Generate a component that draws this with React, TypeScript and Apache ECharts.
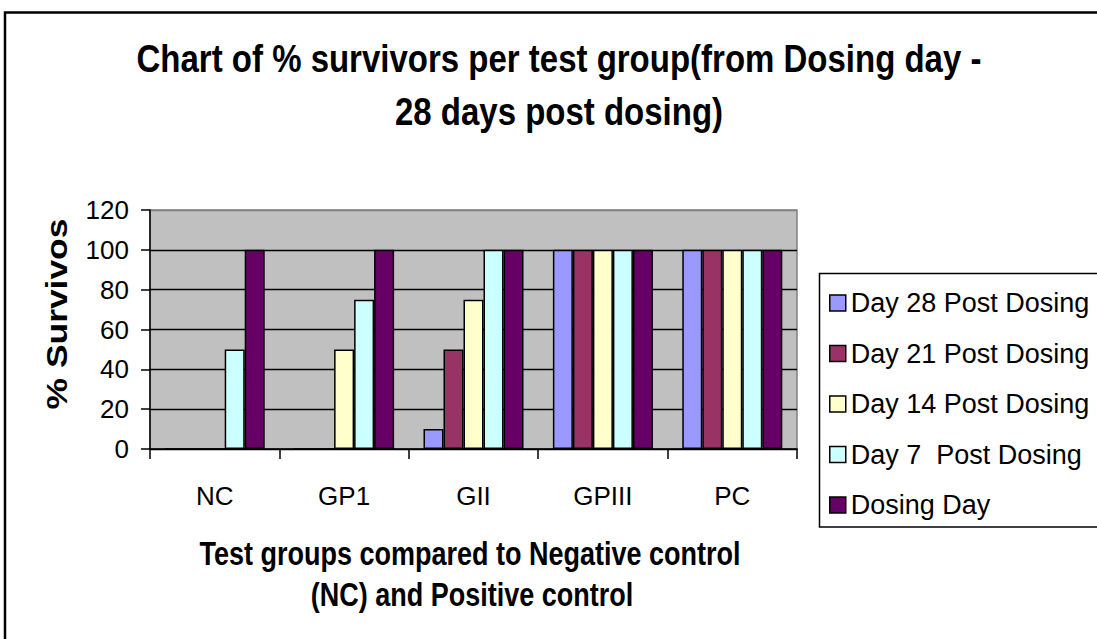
import React, { useEffect, useRef } from 'react';
import * as echarts from 'echarts';

const categories = ['NC', 'GP1', 'GII', 'GPIII', 'PC'];
const seriesNames = [
  'Day 28 Post Dosing',
  'Day 21 Post Dosing',
  'Day 14 Post Dosing',
  'Day 7  Post Dosing',
  'Dosing Day',
];
const day28 = [0, 0, 10, 100, 100];
const day21 = [0, 0, 50, 100, 100];
const day14 = [0, 50, 75, 100, 100];
const day7 = [50, 75, 100, 100, 100];
const dosingDay = [100, 100, 100, 100, 100];
const seriesValues = [day28, day21, day14, day7, dosingDay];
const colors = ['#9999FF', '#993366', '#FFFFCC', '#CCFFFF', '#660066'];

const titleLine1 = 'Chart of % survivors per test group(from Dosing day -';
const titleLine2 = '28 days post dosing)';
const xTitle1 = 'Test groups compared to Negative control';
const xTitle2 = '(NC) and Positive control';
const yTitle = '% Survivos';

const FONT = "'Liberation Sans', Arial, Helvetica, sans-serif";

export default function App() {
  const ref = useRef<HTMLDivElement>(null);
  useEffect(() => {
    if (!ref.current) return;
    const chart = echarts.init(ref.current, undefined, { renderer: 'svg' });
    const option: any = {
      animation: false,
      backgroundColor: '#ffffff',
      textStyle: { fontFamily: FONT },
      grid: {
        left: 150,
        right: 300,
        top: 210,
        bottom: 190,
        show: true,
        backgroundColor: '#C0C0C0',
        borderColor: '#808080',
        borderWidth: 1.5,
      },
      legend: {
        orient: 'vertical',
        left: 819,
        top: 273,
        padding: [15, 5, 7, 10],
        itemWidth: 16,
        itemHeight: 16,
        itemGap: 20.5,
        itemTextGap: 8,
        icon: 'rect',
        borderWidth: 0,
        z: 10,
        itemStyle: { borderColor: '#000', borderWidth: 1.5 },
        textStyle: { fontSize: 27, lineHeight: 30, color: '#000', fontFamily: FONT },
        data: seriesNames,
      },
      xAxis: {
        type: 'category',
        data: categories,
        axisLine: { show: true, lineStyle: { color: '#000', width: 1.5 } },
        axisTick: { show: true, length: 10, alignWithLabel: false, lineStyle: { color: '#000', width: 1.5 } },
        axisLabel: { fontSize: 26, color: '#000', margin: 34, fontFamily: FONT },
        splitLine: { show: false },
      },
      yAxis: {
        type: 'value',
        min: 0,
        max: 120,
        interval: 20,
        axisLine: { show: true, lineStyle: { color: '#000', width: 1.5 } },
        axisTick: { show: true, length: 9, lineStyle: { color: '#000', width: 1.5 } },
        axisLabel: { fontSize: 26, color: '#000', margin: 21, fontFamily: FONT },
        splitLine: {
          show: true,
          lineStyle: {
            color: ['#000', '#000', '#000', '#000', '#000', '#000', '#808080'],
            width: 1.3,
          },
        },
      },
      series: seriesNames.map((name, i) => ({
        name,
        type: 'bar',
        data: seriesValues[i],
        barGap: '0%',
        barCategoryGap: '22.7%',
        itemStyle: { color: colors[i], borderColor: '#000', borderWidth: 1.5 },
      })),
      graphic: [
        {
          type: 'rect',
          shape: { x: 5, y: 12.5, width: 1200, height: 700 },
          style: { fill: 'none', stroke: '#000', lineWidth: 2.5 },
          silent: true,
          z: 100,
        },
        {
          type: 'rect',
          shape: { x: 819.5, y: 273.5, width: 400, height: 253.5 },
          style: { fill: '#fff', stroke: '#000', lineWidth: 1.5 },
          silent: true,
          z: 1,
        },
        {
          type: 'text',
          x: 559,
          y: 59,
          scaleY: 1.18,
          style: { text: titleLine1, font: `bold 33px ${FONT}`, fill: '#000', align: 'center', verticalAlign: 'middle' },
        },
        {
          type: 'text',
          x: 559,
          y: 112,
          scaleY: 1.18,
          style: { text: titleLine2, font: `bold 33px ${FONT}`, fill: '#000', align: 'center', verticalAlign: 'middle' },
        },
        {
          type: 'text',
          x: 470,
          y: 554,
          scaleY: 1.22,
          style: { text: xTitle1, font: `bold 27px ${FONT}`, fill: '#000', align: 'center', verticalAlign: 'middle' },
        },
        {
          type: 'text',
          x: 472,
          y: 595,
          scaleY: 1.22,
          style: { text: xTitle2, font: `bold 27px ${FONT}`, fill: '#000', align: 'center', verticalAlign: 'middle' },
        },
        {
          type: 'text',
          x: 56,
          y: 314,
          rotation: Math.PI / 2,
          scaleX: 1.18,
          style: { text: yTitle, font: `bold 30px ${FONT}`, fill: '#000', align: 'center', verticalAlign: 'middle' },
        },
      ],
    };
    chart.setOption(option);
    return () => chart.dispose();
  }, []);
  return (
    <div
      ref={ref}
      style={{ position: 'fixed', left: 0, top: 0, width: 1097, height: 639, background: '#fff' }}
    />
  );
}
